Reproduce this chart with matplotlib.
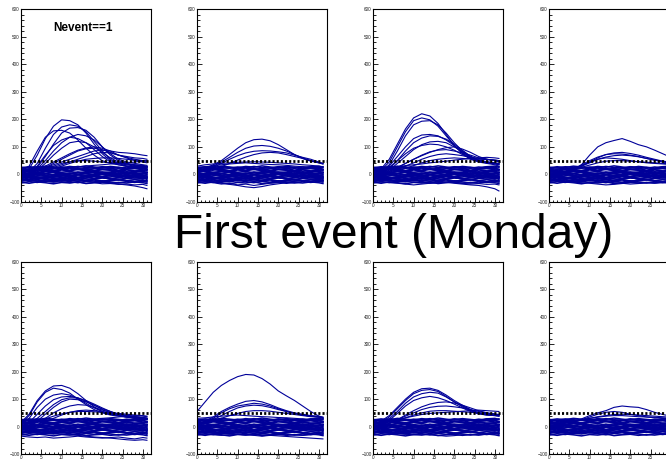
import matplotlib
matplotlib.use("Agg")
import matplotlib.pyplot as plt
from matplotlib.ticker import MultipleLocator

plt.rcParams['font.family'] = ['Liberation Sans', 'DejaVu Sans']

# sample positions of every trace
X = [0, 2, 4, 6, 8, 10, 12, 14, 16, 18, 20, 22, 24, 26, 28, 30, 31]

# baseline traces (common noise band)
BASE = [
    [-28, -32, -27, -30, -34, -29, -31, -27, -33, -30, -28, -32, -29, -31, -27, -30, -33],
    [-22, -19, -24, -21, -18, -23, -20, -25, -21, -19, -24, -22, -20, -23, -19, -22, -24],
    [-15, -18, -13, -16, -19, -14, -17, -12, -16, -18, -13, -15, -19, -14, -17, -15, -13],
    [-9, -6, -11, -8, -5, -10, -7, -12, -8, -6, -10, -9, -5, -11, -8, -7, -10],
    [-3, -6, -1, -4, -7, -2, -5, 0, -4, -6, -1, -3, -7, -2, -5, -4, -2],
    [3, 0, 5, 2, -1, 4, 1, 6, 2, 0, 5, 3, -1, 4, 1, 2, 5],
    [9, 12, 7, 10, 13, 8, 11, 6, 10, 12, 7, 9, 13, 8, 11, 10, 7],
    [15, 12, 17, 14, 11, 16, 13, 18, 14, 12, 17, 15, 11, 16, 13, 14, 17],
    [21, 24, 19, 22, 25, 20, 23, 18, 22, 24, 19, 21, 25, 20, 23, 22, 19],
    [26, 23, 28, 25, 22, 27, 24, 29, 25, 23, 28, 26, 22, 27, 24, 25, 28],
    [-20, -12, -5, 2, 8, 4, -3, -10, -6, 2, 9, 5, -2, -8, -3, 4, 8],
    [18, 10, 3, -4, -10, -5, 2, 9, 4, -3, -9, -4, 3, 10, 5, -2, -6],
    [-10, -2, 6, 12, 6, -1, -8, -2, 6, 12, 7, 0, -6, 0, 7, 12, 6],
    [5, -3, -10, -16, -9, -2, 5, -1, -8, -15, -8, -1, 6, 0, -7, -13, -8],
    [-25, -20, -14, -18, -24, -17, -11, -16, -22, -15, -9, -14, -20, -13, -8, -12, -18],
    [12, 18, 24, 19, 13, 20, 26, 20, 14, 21, 27, 22, 15, 21, 28, 23, 17],
    [-31, -26, -29, -24, -27, -22, -26, -30, -25, -28, -23, -27, -31, -26, -29, -25, -28],
    [-18, -23, -20, -26, -21, -17, -22, -19, -24, -20, -26, -21, -17, -22, -26, -20, -23],
    [-12, -8, -14, -10, -15, -11, -7, -13, -9, -14, -11, -16, -12, -8, -13, -10, -15],
    [0, 4, -2, 3, -3, 1, 5, -1, 3, -2, 2, -4, 1, 5, -1, 3, 0],
    [6, 2, 8, 4, 9, 5, 2, 7, 4, 8, 3, 6, 9, 5, 2, 6, 8],
    [19, 15, 21, 17, 14, 19, 16, 21, 18, 15, 20, 17, 14, 19, 21, 17, 15],
    [24, 28, 25, 30, 27, 24, 29, 26, 31, 27, 24, 29, 26, 23, 28, 30, 26],
    [-6, -13, -19, -12, -4, -9, -15, -20, -13, -6, -11, -17, -10, -3, -9, -16, -11],
]

# pulses / outliers in each channel panel
P1 = [
    [10, 20, 70, 130, 175, 198, 195, 180, 150, 110, 75, 50, 40, 35, 30, 28, 27],
    [5, 10, 40, 95, 145, 172, 180, 175, 155, 120, 85, 55, 40, 30, 25, 22, 20],
    [0, 5, 25, 65, 110, 150, 168, 170, 160, 135, 100, 70, 50, 40, 35, 30, 28],
    [0, 5, 20, 50, 85, 115, 135, 145, 140, 125, 100, 75, 55, 45, 40, 35, 33],
    [-5, 0, 15, 40, 70, 95, 115, 120, 115, 100, 80, 60, 45, 38, 32, 30, 28],
    [0, 5, 15, 30, 45, 60, 75, 88, 96, 100, 95, 85, 70, 60, 50, 45, 42],
    [-5, 0, 10, 25, 40, 55, 70, 85, 93, 95, 90, 80, 70, 62, 55, 50, 48],
    [0, 5, 15, 25, 35, 45, 55, 65, 75, 85, 88, 85, 80, 78, 75, 70, 68],
    [-5, -2, 5, 15, 25, 35, 45, 55, 65, 75, 80, 78, 70, 65, 60, 58, 55],
    [-10, -5, 0, 10, 20, 30, 40, 48, 55, 58, 60, 60, 58, 55, 52, 50, 48],
    [0, 5, 10, 20, 30, 40, 45, 50, 50, 48, 45, 42, 40, 38, 35, 33, 30],
    [15, 30, 85, 135, 158, 160, 150, 125, 95, 70, 50, 40, 35, 30, 28, 25, 22],
    [5, 10, 30, 70, 105, 125, 135, 130, 115, 90, 65, 45, 35, 30, 28, 25, 25],
    [0, -5, -8, -10, -12, -15, -18, -20, -22, -25, -28, -30, -35, -38, -42, -48, -52],
    [-20, -22, -25, -24, -28, -26, -30, -28, -32, -30, -34, -33, -36, -35, -38, -36, -40],
    [10, 12, 15, 18, 20, 22, 25, 28, 30, 33, 35, 38, 40, 42, 45, 48, 50],
]
P2 = [
    [15, 22, 35, 50, 72, 95, 115, 126, 128, 122, 108, 90, 72, 58, 48, 42, 38],
    [10, 18, 30, 45, 62, 80, 95, 103, 105, 102, 95, 85, 72, 60, 50, 42, 38],
    [5, 12, 25, 40, 55, 68, 78, 84, 86, 85, 82, 78, 70, 62, 55, 45, 40],
    [0, 5, 15, 28, 40, 52, 63, 72, 78, 80, 78, 72, 65, 58, 50, 43, 40],
    [-20, -22, -28, -32, -36, -40, -45, -48, -44, -38, -34, -30, -25, -22, -20, -18, -20],
    [-25, -28, -30, -35, -32, -38, -35, -40, -36, -32, -30, -28, -25, -22, -25, -20, -22],
    [30, 35, 38, 40, 42, 44, 45, 46, 45, 44, 42, 40, 38, 35, 33, 30, 28],
    [25, 28, 32, 35, 38, 40, 42, 40, 38, 36, 35, 33, 30, 28, 26, 25, 24],
]
P3 = [
    [10, 20, 55, 110, 165, 205, 220, 212, 185, 145, 105, 75, 55, 45, 40, 35, 30],
    [5, 15, 45, 100, 155, 195, 205, 198, 175, 140, 105, 78, 58, 48, 42, 38, 35],
    [0, 10, 35, 85, 140, 180, 193, 195, 180, 150, 115, 85, 62, 50, 45, 40, 38],
    [0, 8, 30, 65, 100, 130, 143, 145, 140, 125, 105, 82, 62, 50, 45, 40, 38],
    [-5, 5, 20, 50, 85, 115, 132, 140, 138, 128, 110, 88, 66, 52, 46, 42, 40],
    [0, 5, 15, 40, 65, 90, 108, 118, 120, 115, 100, 82, 65, 52, 45, 40, 38],
    [-5, 0, 10, 25, 40, 55, 68, 80, 90, 97, 100, 92, 80, 65, 55, 50, 45],
    [0, 5, 12, 25, 40, 55, 70, 82, 88, 90, 85, 78, 70, 60, 55, 50, 48],
    [-5, 0, 8, 18, 30, 42, 55, 65, 72, 75, 72, 68, 62, 58, 55, 52, 50],
    [5, 10, 25, 50, 75, 95, 105, 110, 108, 100, 88, 72, 58, 48, 42, 40, 38],
    [-5, 0, 5, 12, 22, 32, 42, 50, 55, 58, 60, 58, 56, 55, 54, 52, 50],
    [-10, -15, -20, -22, -25, -28, -30, -32, -30, -28, -32, -35, -38, -40, -45, -52, -60],
    [-25, -28, -30, -32, -35, -38, -35, -32, -30, -28, -30, -32, -35, -33, -36, -35, -38],
    [20, 22, 25, 28, 32, 35, 38, 42, 45, 48, 52, 55, 58, 60, 62, 60, 58],
]
P4 = [
    [0, 5, 10, 15, 35, 70, 100, 115, 123, 130, 120, 108, 100, 88, 75, 62, 55],
    [-5, 0, 5, 15, 30, 45, 60, 72, 78, 80, 76, 70, 62, 55, 48, 42, 40],
    [0, 5, 10, 20, 35, 50, 63, 72, 75, 74, 70, 65, 58, 52, 45, 40, 38],
    [5, 8, 12, 20, 30, 42, 55, 63, 68, 70, 68, 64, 58, 52, 48, 45, 42],
    [0, 3, 8, 18, 32, 45, 55, 60, 58, 55, 50, 46, 42, 40, 38, 36, 35],
    [5, 8, 12, 18, 26, 34, 42, 48, 50, 50, 48, 46, 44, 42, 40, 38, 36],
    [-20, -22, -25, -28, -30, -32, -35, -38, -36, -33, -30, -28, -30, -32, -30, -28, -30],
    [-25, -24, -26, -28, -25, -30, -28, -26, -30, -32, -35, -33, -30, -28, -30, -32, -30],
]
P5 = [
    [15, 45, 95, 130, 148, 150, 140, 120, 95, 72, 55, 45, 40, 35, 32, 30, 28],
    [10, 40, 90, 125, 140, 135, 122, 100, 80, 62, 50, 42, 38, 34, 30, 28, 26],
    [5, 30, 70, 100, 115, 120, 115, 102, 85, 68, 55, 45, 40, 35, 32, 30, 28],
    [0, 15, 45, 75, 98, 108, 110, 105, 92, 78, 62, 50, 42, 38, 35, 32, 30],
    [0, 10, 30, 55, 80, 98, 105, 104, 95, 82, 68, 55, 45, 40, 35, 32, 30],
    [-5, 5, 20, 45, 70, 90, 100, 98, 90, 78, 65, 55, 45, 40, 36, 33, 30],
    [0, 5, 15, 30, 50, 65, 75, 80, 78, 70, 60, 52, 45, 40, 35, 32, 30],
    [-5, 0, 8, 18, 30, 42, 52, 58, 60, 58, 54, 50, 45, 40, 35, 32, 30],
    [5, 10, 18, 28, 38, 46, 52, 55, 55, 54, 52, 50, 48, 45, 42, 40, 38],
    [-10, -15, -18, -22, -25, -28, -30, -32, -35, -38, -40, -42, -45, -48, -50, -48, -50],
    [-35, -38, -40, -38, -42, -40, -38, -35, -38, -40, -42, -40, -38, -42, -45, -40, -42],
    [0, 3, 6, 10, 14, 18, 20, 22, 25, 28, 30, 32, 35, 38, 40, 38, 36],
]
P6 = [
    [55, 90, 125, 150, 168, 182, 190, 188, 175, 155, 130, 112, 95, 75, 55, 38, 30],
    [10, 20, 35, 55, 70, 82, 92, 95, 90, 80, 68, 58, 50, 45, 40, 38, 35],
    [5, 15, 30, 50, 65, 75, 80, 85, 82, 75, 65, 55, 48, 42, 38, 35, 32],
    [0, 10, 25, 40, 55, 68, 75, 78, 76, 70, 62, 55, 48, 42, 38, 35, 32],
    [5, 10, 20, 30, 40, 48, 55, 58, 58, 56, 52, 48, 44, 40, 36, 34, 32],
    [-20, -22, -24, -25, -26, -28, -30, -28, -30, -32, -34, -36, -38, -40, -42, -44, -45],
    [-25, -28, -30, -32, -30, -28, -30, -32, -35, -32, -30, -28, -30, -32, -30, -28, -30],
    [30, 32, 35, 38, 40, 42, 40, 38, 36, 35, 33, 32, 30, 28, 25, 22, 20],
]
P7 = [
    [10, 20, 40, 70, 100, 125, 138, 140, 132, 115, 95, 78, 62, 50, 45, 42, 40],
    [5, 15, 35, 65, 95, 120, 132, 135, 128, 110, 90, 75, 60, 50, 45, 42, 40],
    [0, 10, 28, 55, 85, 108, 120, 125, 122, 108, 90, 72, 58, 48, 42, 40, 38],
    [0, 8, 22, 48, 75, 95, 105, 110, 105, 95, 82, 68, 55, 46, 42, 40, 38],
    [-5, 0, 10, 25, 42, 58, 72, 82, 88, 90, 86, 78, 68, 58, 50, 45, 42],
    [0, 5, 12, 25, 38, 50, 62, 70, 74, 75, 72, 68, 62, 55, 50, 45, 42],
    [5, 8, 14, 22, 32, 42, 50, 56, 58, 58, 56, 54, 52, 50, 48, 46, 44],
    [10, 12, 18, 25, 32, 38, 44, 48, 50, 52, 54, 56, 58, 60, 58, 56, 55],
    [-20, -22, -24, -25, -28, -30, -28, -30, -32, -35, -33, -30, -28, -30, -28, -26, -25],
]
P8 = [
    [5, 8, 12, 18, 28, 40, 50, 58, 70, 75, 72, 70, 62, 52, 44, 38, 35],
    [0, 3, 8, 15, 25, 35, 45, 52, 55, 52, 45, 40, 35, 32, 30, 28, 26],
    [5, 8, 12, 18, 24, 30, 36, 40, 44, 45, 44, 42, 40, 38, 36, 34, 32],
    [10, 12, 15, 20, 25, 30, 34, 38, 40, 40, 38, 36, 35, 34, 32, 30, 30],
    [-18, -20, -22, -20, -18, -22, -24, -22, -20, -18, -20, -22, -20, -18, -16, -18, -20],
]
PANELS = [P1, P2, P3, P4, P5, P6, P7, P8]
THRESHOLD = 50

fig = plt.figure(figsize=(6.66, 4.62), dpi=100)
W, H = 666.0, 462.0
lefts = [21, 197, 373, 549]
rows = [(9, 202), (262, 454)]

for k, pulses in enumerate(PANELS):
    top, bot = rows[k // 4]
    left = lefts[k % 4]
    ax = fig.add_axes([left / W, 1 - bot / H, 130 / W, (bot - top) / H])
    for tr in BASE:
        ax.plot(X, tr, color='#000099', lw=1.1)
    for tr in pulses:
        ax.plot(X, tr, color='#000099', lw=0.8)
    ax.axhline(THRESHOLD, color='black', lw=2.0, ls=(0, (0.75, 0.75)),
               dash_capstyle='butt')
    ax.set_xlim(0, 32)
    ax.set_ylim(-100, 600)
    ax.xaxis.set_major_locator(MultipleLocator(5))
    ax.xaxis.set_minor_locator(MultipleLocator(1))
    ax.yaxis.set_major_locator(MultipleLocator(100))
    ax.yaxis.set_minor_locator(MultipleLocator(20))
    ax.tick_params(which='both', direction='in', top=False, right=False,
                   labelsize=3.3, labelcolor='#222222', width=0.6, pad=1.0)
    ax.tick_params(which='major', length=3.5)
    ax.tick_params(which='minor', length=1.8)
    for s in ax.spines.values():
        s.set_linewidth(0.8)
    if k % 4 == 3:
        # last column runs off the canvas; its 30 label is not shown
        for lab in ax.get_xticklabels():
            if lab.get_text() in ('30', '35'):
                lab.set_visible(False)
        ax.set_xticks([0, 5, 10, 15, 20, 25])
        ax.set_xticklabels(['0', '5', '10', '15', '20', '25'])
    if k == 0:
        ax.text(0.48, 0.9, 'Nevent==1', transform=ax.transAxes, ha='center',
                va='center', fontsize=8.5, fontweight='bold')

fig.text(393.5 / W, 1 - 247.7 / H, 'First event (Monday)', ha='center',
         va='baseline', fontsize=34.5)

fig.savefig('out.png', dpi=100)
